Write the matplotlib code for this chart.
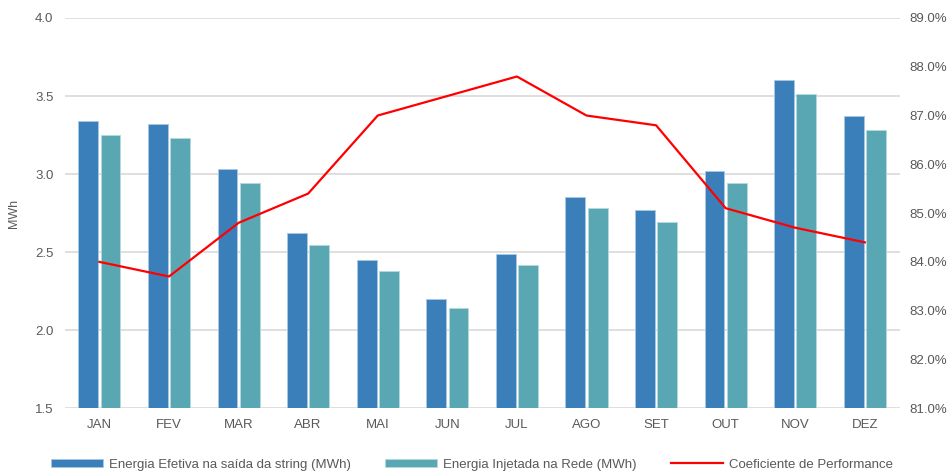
import matplotlib.pyplot as plt
import numpy as np
from matplotlib.ticker import FuncFormatter

plt.rcParams['font.family'] = ['Liberation Sans', 'DejaVu Sans']

meses = ["JAN", "FEV", "MAR", "ABR", "MAI", "JUN", "JUL", "AGO", "SET", "OUT", "NOV", "DEZ"]
energia_string = [3.34, 3.32, 3.03, 2.62, 2.45, 2.20, 2.49, 2.85, 2.77, 3.02, 3.60, 3.37]
energia_rede = [3.25, 3.23, 2.94, 2.545, 2.38, 2.14, 2.42, 2.78, 2.69, 2.94, 3.51, 3.28]
coef_performance = [84.0, 83.7, 84.8, 85.4, 87.0, 87.4, 87.8, 87.0, 86.8, 85.1, 84.7, 84.4]

cor_texto = "#595959"
x = np.arange(len(meses))

fig = plt.figure(figsize=(9.5, 4.73), dpi=100)
ax = fig.add_axes([0.068, 0.137, 0.879, 0.825])

w = 0.285
ax.bar(x - 0.16, energia_string, w, bottom=0, color="#3a7fba", edgecolor="#a9c8e4", linewidth=0.6,
       label="Energia Efetiva na saída da string (MWh)", zorder=3)
ax.bar(x + 0.16, energia_rede, w, bottom=0, color="#5aa7b4", edgecolor="#b5d8de", linewidth=0.6,
       label="Energia Injetada na Rede (MWh)", zorder=3)

ax.set_xlim(-0.5, len(meses) - 0.5)
ax.set_ylim(1.5, 4.0)
ax.set_yticks(np.arange(1.5, 4.01, 0.5))
ax.yaxis.set_major_formatter(FuncFormatter(lambda v, p: f"{v:.1f}"))
ax.set_xticks(x)
ax.set_xticklabels(meses)
ax.set_ylabel("MWh", color=cor_texto, fontsize=9)
ax.yaxis.set_label_coords(-0.053, 0.5)
ax.grid(axis="y", color="#d9d9d9", linewidth=1.2, zorder=0)
ax.tick_params(axis="both", length=0, colors=cor_texto, labelsize=9.5)
ax.tick_params(axis="y", pad=8)
ax.tick_params(axis="x", pad=8)
for s in ax.spines.values():
    s.set_visible(False)

ax2 = ax.twinx()
ax2.plot(x, coef_performance, color="#ff0000", linewidth=1.6, label="Coeficiente de Performance", zorder=4)
ax2.set_ylim(81, 89)
ax2.set_yticks(np.arange(81, 89.1, 1))
ax2.yaxis.set_major_formatter(FuncFormatter(lambda v, p: f"{v:.1f}%"))
ax2.tick_params(axis="y", length=0, colors=cor_texto, labelsize=9.5, pad=7)
for s in ax2.spines.values():
    s.set_visible(False)

h1, l1 = ax.get_legend_handles_labels()
h2, l2 = ax2.get_legend_handles_labels()
leg = fig.legend(h1 + h2, l1 + l2, loc="lower center", bbox_to_anchor=(0.497, -0.02), ncol=3,
                 frameon=False, fontsize=9.5, handlelength=3.9, handleheight=0.55,
                 handletextpad=0.5, columnspacing=2.6)
for t in leg.get_texts():
    t.set_color(cor_texto)

fig.savefig("out.png", dpi=100)
